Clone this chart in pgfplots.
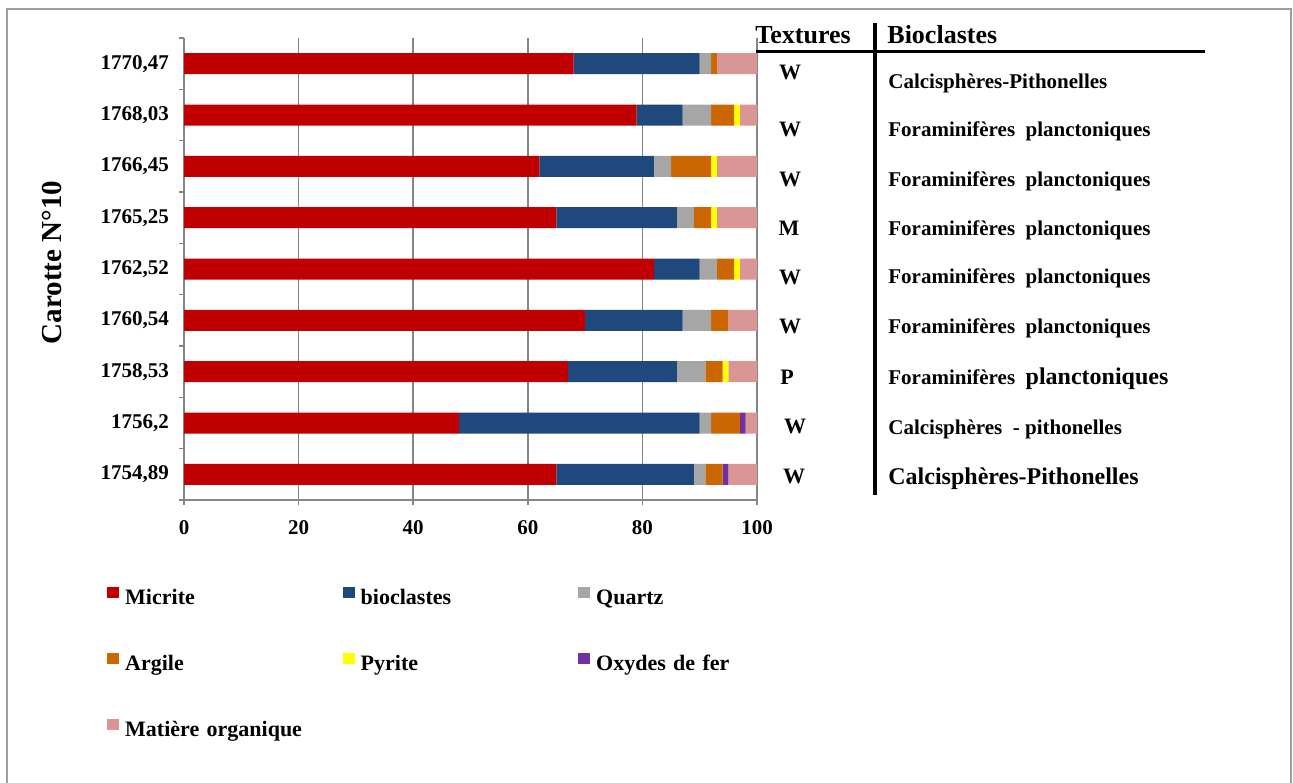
\documentclass[border=0pt]{standalone}
\usepackage{fontspec}
\setmainfont{Liberation Serif}
\usepackage{pgfplots}
\pgfplotsset{compat=1.18}
\usepackage{pgfplotstable}

\definecolor{micrite}{HTML}{C00000}
\definecolor{bioc}{HTML}{1F497D}
\definecolor{quartz}{HTML}{A6A6A6}
\definecolor{argile}{HTML}{CC6600}
\definecolor{pyrite}{HTML}{FFFF00}
\definecolor{oxydes}{HTML}{7030A0}
\definecolor{matorg}{HTML}{D99694}
\definecolor{gridgray}{HTML}{868686}

\pgfplotstableread{
pos mic bio qtz arg pyr oxy mo
0 65 24 2 3 0 1 5
1 48 42 2 5 0 1 2
2 67 19 5 3 1 0 5
3 70 17 5 3 0 0 5
4 82 8 3 3 1 0 3
5 65 21 3 3 1 0 7
6 62 20 3 7 1 0 7
7 79 8 5 4 1 0 3
8 68 22 2 1 0 0 7
}\data

\newcommand{\fs}[1]{\bfseries\fontsize{#1}{#1}\selectfont}

\pgfplotsset{sq/.style={draw=none, fill=#1,
  legend image code/.code={\fill[#1] (0pt,0.5pt) rectangle (6pt,6.2pt);}}}

\begin{document}
\begin{tikzpicture}
\begin{scope}[x=0.5pt,y=-0.5pt]
\useasboundingbox (0,0) rectangle (1293,782);
\fill[white] (0,0) rectangle (1293,782);
\draw[gridgray!80, line width=1pt] (7,800) -- (7,9) -- (1291,9) -- (1291,800);
\end{scope}

\begin{axis}[
  at={(92pt,-250pt)}, anchor=south west,
  width=286.5pt, height=231pt, scale only axis,
  xbar stacked, bar width=10.5pt,
  xmin=0, xmax=100, ymin=-0.5, ymax=8.5,
  axis x line*=bottom, axis y line*=left,
  axis line style={gridgray, line width=0.75pt},
  xtick={0,20,...,100}, xmajorgrids,
  grid style={gridgray, line width=0.75pt},
  tick style={gridgray, line width=0.75pt},
  tick align=outside, major tick length=2.5pt,
  ytick={-0.5,0.5,...,8.5}, yticklabel={\vphantom{0}},
  ymajorgrids=false,
  extra y ticks={0,1,2,3,4,5,6,7,8},
  extra y tick labels={{1754,89},{1756,2},{1758,53},{1760,54},{1762,52},{1765,25},{1766,45},{1768,03},{1770,47}},
  extra y tick style={major tick length=0pt, grid=none,
     yticklabel style={xshift=-4pt}},
  ticklabel style={font=\fs{10.5}},
  /pgf/number format/assume math mode=true,
  xticklabel style={yshift=-4pt},
  ylabel={Carotte N°10},
  ylabel style={font=\fs{14.5}, at={(axis description cs:-0.2304,0.514)}, anchor=center},
  legend columns=3,
  legend cell align=left,
  legend style={draw=none, fill=none, inner sep=0pt, outer sep=0pt,
     at={(axis description cs:-0.134,-0.188)}, anchor=north west,
     font=\fs{11},
     row sep=21.5pt,
     nodes={text width=108.75pt, align=left, inner sep=0pt, text height=8pt, text depth=2.5pt},
     /tikz/every odd column/.append style={column sep=3pt},
     /tikz/every even column/.append style={column sep=0pt}},
]
\addplot[sq=micrite] table[x=mic, y=pos] {\data};
\addlegendentry{Micrite}
\addplot[sq=bioc] table[x=bio, y=pos] {\data};
\addlegendentry{bioclastes}
\addplot[sq=quartz] table[x=qtz, y=pos] {\data};
\addlegendentry{Quartz}
\addplot[sq=argile] table[x=arg, y=pos] {\data};
\addlegendentry{Argile}
\addplot[sq=pyrite] table[x=pyr, y=pos] {\data};
\addlegendentry{Pyrite}
\addplot[sq=oxydes] table[x=oxy, y=pos] {\data};
\addlegendentry{Oxydes de fer}
\addplot[sq=matorg] table[x=mo, y=pos] {\data};
\addlegendentry{Matière organique}
\end{axis}

\begin{scope}[x=0.5pt,y=-0.5pt]
\draw[black, line width=1.1pt] (756,51.5) -- (1205,51.5);
\draw[black, line width=2pt] (875,23) -- (875,495);
\node[anchor=base west, inner sep=0pt, font=\fs{13}] at (755,43.5) {Textures};
\node[anchor=base west, inner sep=0pt, font=\fs{13}] at (887,43.5) {Bioclastes};
\foreach \x/\y/\t in {790/79/W, 790/136/W, 790/186/W, 789/235/M, 790/284/W, 790/333/W, 787/384/P, 795/433/W, 794/483/W}
  \node[anchor=base, inner sep=0pt, font=\fs{11}] at (\x,\y) {\t};
\node[anchor=base west, inner sep=0pt, font=\fs{10.5}] at (888,88) {Calcisphères-Pithonelles};
\foreach \y in {136,186,235,283,333}
  \node[anchor=base west, inner sep=0pt, font=\fs{10.5}] at (888,\y) {Foraminifères\ \ planctoniques};
\node[anchor=base west, inner sep=0pt, font=\fs{10.5}] at (888,384) {Foraminifères\ \ {\fs{12}planctoniques}};
\node[anchor=base west, inner sep=0pt, font=\fs{10.5}] at (888,434) {Calcisphères\ \ - pithonelles};
\node[anchor=base west, inner sep=0pt, font=\fs{12}] at (888,484) {Calcisphères-Pithonelles};
\end{scope}
\end{tikzpicture}
\end{document}
